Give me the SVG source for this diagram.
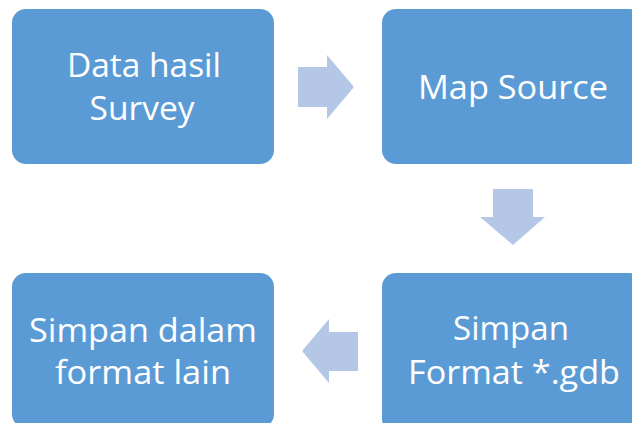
<svg xmlns="http://www.w3.org/2000/svg" width="632" height="423" viewBox="0 0 632 423">
<style>
.box{fill:#5B9BD5;}
.arr{fill:#B4C7E7;}
text{font-family:"Open Sans","Noto Sans",sans-serif;font-size:33px;fill:#FFFFFF;text-anchor:middle;}
</style>
<rect width="632" height="423" fill="#FFFFFF"/>
<g id="connectors">
<polygon class="arr" points="298,67 327,67 327,55 354,87 327,119 327,107 298,107"/>
<polygon class="arr" points="493,189 533,189 533,217 545,217 513,245 480,217 493,217"/>
<polygon class="arr" points="358,332 329,332 329,319 302,351 329,383 329,371 358,371"/>
</g>
<g id="node1">
<rect class="box" x="12" y="9" width="262" height="155" rx="14"/>
<text x="144" y="77" textLength="154" lengthAdjust="spacingAndGlyphs">Data hasil</text>
<text x="142" y="120" textLength="105" lengthAdjust="spacingAndGlyphs">Survey</text>
</g>
<g id="node2">
<rect class="box" x="382" y="9" width="262" height="155" rx="14"/>
<text x="513" y="99" textLength="190" lengthAdjust="spacingAndGlyphs">Map Source</text>
</g>
<g id="node3">
<rect class="box" x="382" y="273" width="262" height="160" rx="14"/>
<text x="511" y="340" textLength="116" lengthAdjust="spacingAndGlyphs">Simpan</text>
<text x="514" y="384" textLength="212" lengthAdjust="spacingAndGlyphs">Format *.gdb</text>
</g>
<g id="node4">
<rect class="box" x="12" y="273" width="262" height="155" rx="14"/>
<text x="143" y="342" textLength="228" lengthAdjust="spacingAndGlyphs">Simpan dalam</text>
<text x="143" y="384" textLength="176" lengthAdjust="spacingAndGlyphs">format lain</text>
</g>
</svg>
